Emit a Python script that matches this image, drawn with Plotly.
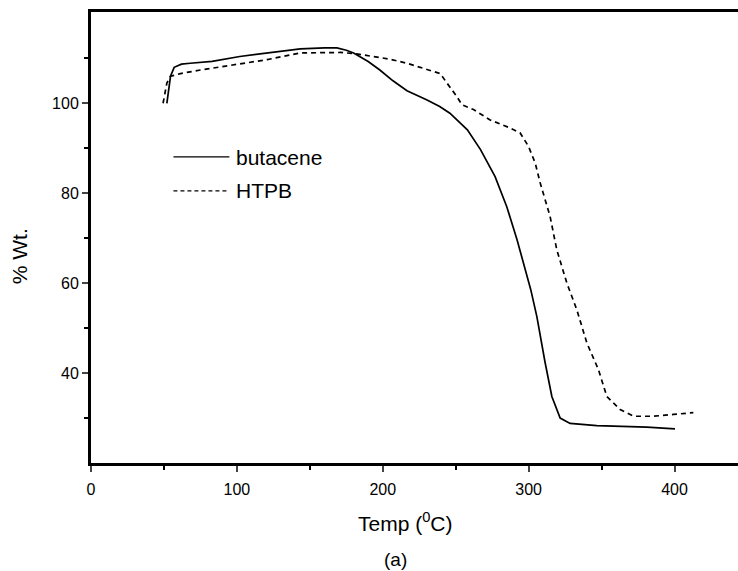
import plotly.graph_objects as go

# TGA curves
butacene_temp = [52, 53, 54.5, 57, 62, 68, 83, 102, 120, 143.5, 160, 168.6, 175, 180,
                 190, 198, 207, 216.6, 230, 239, 246, 258, 267, 277, 285, 292, 301.4,
                 305.6, 311.3, 315.9, 321.6, 328.4, 346.7, 381, 400.3]
butacene_wt = [100, 103, 106, 108, 108.7, 108.9, 109.3, 110.4, 111.2, 112.1, 112.3, 112.3,
               111.8, 111.2, 109.3, 107.4, 105.0, 102.8, 100.8, 99.3, 97.8, 94.1, 89.7,
               83.7, 77, 69.7, 58.6, 52.6, 42.3, 34.8, 30.0, 28.8, 28.3, 28.0, 27.6]

htpb_temp = [49.4, 50.5, 52, 54.5, 61.3, 75, 91, 97.8, 113.8, 120.7, 143.5, 171, 182,
             193.7, 205, 216.6, 229, 239.4, 244, 250.8, 254.2, 262.2, 273.6, 287.3, 294.2,
             299.9, 304.5, 307.9, 314.7, 319.3, 326.2, 333, 339.9, 347.8, 353.6, 362.7,
             371.8, 385.5, 399.2, 412.9]
htpb_wt = [100, 102, 104.5, 106, 106.6, 107.4, 108.2, 108.6, 109.3, 109.7, 111.2, 111.3,
           111.0, 110.4, 109.8, 108.9, 107.7, 106.6, 104.5, 101.5, 99.7, 98.6, 96.3, 94.5,
           93.4, 90.4, 86.7, 82.3, 74.8, 67.4, 60.0, 54.1, 46.7, 40.8, 34.8, 31.9, 30.4,
           30.4, 30.8, 31.2]

x_ticks = [0, 100, 200, 300, 400]
y_ticks = [40, 60, 80, 100]

FONT = "Liberation Sans, Arial, sans-serif"

# pixel geometry of the plot box
L, R, T, B = 90.5, 738, 12, 463.5
def px(x):
    return (x - L) / (R - L)
def py(y):
    return (B - y) / (B - T)

fig = go.Figure()
fig.add_trace(go.Scatter(x=butacene_temp, y=butacene_wt, mode="lines", name="butacene",
                         line=dict(color="black", width=1.7)))
fig.add_trace(go.Scatter(x=htpb_temp, y=htpb_wt, mode="lines", name="HTPB",
                         line=dict(color="black", width=1.7, dash="5px,4px")))

fig.update_xaxes(range=[0, 443.5], tickvals=x_ticks, ticks="outside", ticklen=6, tickwidth=2,
                 showline=True, linewidth=3, linecolor="black", mirror=True,
                 showgrid=False, zeroline=False, ticklabelstandoff=4,
                 tickfont=dict(family=FONT, size=16, color="black"),
                 minor=dict(tickvals=[50, 150, 250, 350], ticks="outside", ticklen=4,
                            tickwidth=2, tickcolor="black", showgrid=False))
fig.update_yaxes(range=[20, 120.3], tickvals=y_ticks, ticks="outside", ticklen=6, tickwidth=2,
                 showline=True, linewidth=3, linecolor="black", mirror=False,
                 showgrid=False, zeroline=False,
                 tickfont=dict(family=FONT, size=16, color="black"),
                 minor=dict(tickvals=[30, 50, 70, 90, 110], ticks="outside", ticklen=4,
                            tickwidth=2, tickcolor="black", showgrid=False))

# legend drawn by hand to match the sample lengths
shapes = [
    dict(type="line", xref="paper", yref="paper", x0=px(173), x1=px(229), y0=py(157), y1=py(157),
         line=dict(color="black", width=1.2)),
    dict(type="line", xref="paper", yref="paper", x0=px(173), x1=px(229), y0=py(191), y1=py(191),
         line=dict(color="black", width=1.2, dash="4px,3px")),
]
annotations = [
    dict(text="butacene", x=px(234), y=py(158), xanchor="left", yanchor="middle"),
    dict(text="HTPB", x=px(234), y=py(191), xanchor="left", yanchor="middle"),
    dict(text="Temp (<sup>0</sup>C)", x=px(405), y=py(523), xanchor="center", yanchor="middle",
         font=dict(family=FONT, size=21, color="black")),
    dict(text="(a)", x=px(395), y=py(560), xanchor="center", yanchor="middle",
         font=dict(family=FONT, size=19, color="black")),
    dict(text="% Wt.", x=px(19), y=py(257), xanchor="center", yanchor="middle", textangle=-90,
         font=dict(family=FONT, size=21, color="black")),
]
for a in annotations:
    a.setdefault("font", dict(family=FONT, size=21, color="black"))
    a.update(xref="paper", yref="paper", showarrow=False)

fig.update_layout(width=738, height=571, margin=dict(l=L, r=0, t=T, b=571 - B),
                  plot_bgcolor="white", paper_bgcolor="white", showlegend=False,
                  shapes=shapes, annotations=annotations,
                  font=dict(family=FONT, color="black"))

# page body margin would otherwise shift the figure
fig.write_html("out.html", config={"displayModeBar": False},
               post_script="document.body.style.margin='0';document.body.style.overflow='hidden';")
